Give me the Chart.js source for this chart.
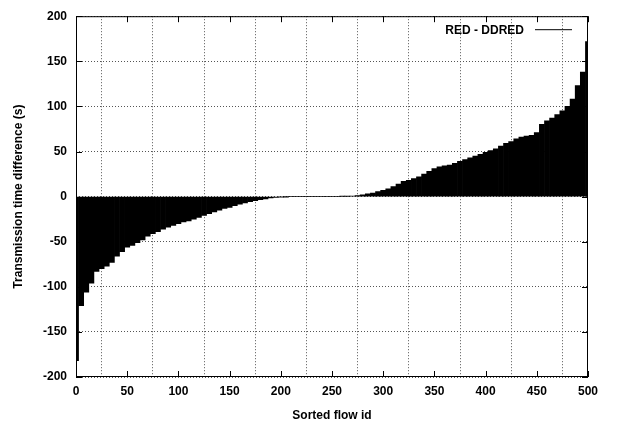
<!DOCTYPE html>
<html lang="en">
<head>
  <meta charset="utf-8" />
  <title>Sorted flow id</title>
  <script src="https://cdn.jsdelivr.net/npm/chart.js@4.4.1/dist/chart.umd.min.js"></script>
  <style>
    body { margin: 0; background: #fff; }
  </style>
</head>
<body>
  <canvas id="chart" width="621" height="423"></canvas>
  <script>
    // flow ids (every 5th sorted flow) and the transmission time difference
    const flowIds = [
      0, 5, 10, 15, 20, 25, 30, 35, 40, 45,
      50, 55, 60, 65, 70, 75, 80, 85, 90, 95,
      100, 105, 110, 115, 120, 125, 130, 135, 140, 145,
      150, 155, 160, 165, 170, 175, 180, 185, 190, 195,
      200, 205, 210, 215, 220, 225, 230, 235, 240, 245,
      250, 255, 260, 265, 270, 275, 280, 285, 290, 295,
      300, 305, 310, 315, 320, 325, 330, 335, 340, 345,
      350, 355, 360, 365, 370, 375, 380, 385, 390, 395,
      400, 405, 410, 415, 420, 425, 430, 435, 440, 445,
      450, 455, 460, 465, 470, 475, 480, 485, 490, 495,
      500
    ];
    const timeDiff = [
      -182, -121, -106, -96, -83, -80, -77, -73, -66, -61,
      -56, -54, -51, -48, -44, -41, -39, -36, -34, -32,
      -30, -28, -27, -25, -23, -21, -19, -17, -15, -13,
      -12, -10, -8.5, -7, -5.5, -4.5, -3.5, -2.5, -1.5, -0.8,
      -0.3, -0.1, 0, 0, 0, 0, 0, 0, 0, 0,
      0, 0, 0.1, 0.2, 0.4, 1, 2, 3, 4, 5.5,
      7, 8.5, 11, 14, 17, 18, 20, 22, 25, 28,
      31, 33, 34, 35, 37, 39, 41, 43, 45, 47,
      49, 51, 53, 56, 59, 61, 64, 66, 67, 68,
      71, 80, 84, 87, 91, 95, 100, 108, 123, 138,
      172
    ];
    const seriesLabel = 'RED - DDRED';
    const xTicks = [0, 50, 100, 150, 200, 250, 300, 350, 400, 450, 500];
    const yTicks = [-200, -150, -100, -50, 0, 50, 100, 150, 200];

    const font = { family: 'Liberation Sans, Arial, sans-serif', size: 12, weight: 'bold' };

    // gnuplot style frame, inward ticks and legend inside the plot
    const framePlugin = {
      id: 'frame',
      afterDraw(chart) {
        const ctx = chart.ctx;
        const a = chart.chartArea;
        const xs = chart.scales.x, ys = chart.scales.y;
        ctx.save();
        ctx.strokeStyle = '#000';
        ctx.lineWidth = 1;
        ctx.strokeRect(a.left + 0.5, a.top + 0.5, a.right - a.left - 1, a.bottom - a.top - 1);
        ctx.beginPath();
        xTicks.forEach(v => {
          const px = Math.round(xs.getPixelForValue(v)) + 0.5;
          ctx.moveTo(px, a.bottom); ctx.lineTo(px, a.bottom - 6);
          ctx.moveTo(px, a.top); ctx.lineTo(px, a.top + 6);
        });
        yTicks.forEach(v => {
          const py = Math.round(ys.getPixelForValue(v)) + 0.5;
          ctx.moveTo(a.left, py); ctx.lineTo(a.left + 6, py);
          ctx.moveTo(a.right, py); ctx.lineTo(a.right - 6, py);
        });
        ctx.stroke();
        // legend
        ctx.font = 'bold 12px Liberation Sans, Arial, sans-serif';
        ctx.fillStyle = '#000';
        ctx.textAlign = 'right';
        ctx.textBaseline = 'middle';
        ctx.fillText(seriesLabel, a.right - 64, a.top + 14);
        ctx.beginPath();
        ctx.moveTo(a.right - 53, a.top + 13.5);
        ctx.lineTo(a.right - 16, a.top + 13.5);
        ctx.stroke();
        ctx.restore();
      }
    };

    new Chart(document.getElementById('chart'), {
      type: 'bar',
      data: {
        datasets: [{
          label: seriesLabel,
          data: flowIds.map((f, i) => ({ x: f, y: timeDiff[i] })),
          backgroundColor: '#000',
          borderWidth: 0,
          barPercentage: 1,
          categoryPercentage: 1
        }]
      },
      options: {
        responsive: false,
        animation: false,
        devicePixelRatio: 1,
        layout: { padding: { top: 10, right: 33, left: 0, bottom: 0 } },
        plugins: { legend: { display: false }, tooltip: { enabled: false } },
        scales: {
          x: {
            type: 'linear',
            min: 0, max: 500,
            offset: false,
            afterBuildTicks: s => { s.ticks = xTicks.map(v => ({ value: v })); },
            afterFit: s => { s.height = 46; },
            ticks: { font: font, color: '#000', padding: 7, maxRotation: 0 },
            grid: { color: '#555', lineWidth: 1, drawTicks: false },
            border: { display: false, dash: [1, 2] },
            title: { display: true, text: 'Sorted flow id', font: font, color: '#000', padding: { top: 5, bottom: 0 } }
          },
          y: {
            min: -200, max: 200,
            afterBuildTicks: s => { s.ticks = yTicks.map(v => ({ value: v })); },
            afterFit: s => { s.width = 76; },
            ticks: { font: font, color: '#000', padding: 9 },
            grid: { color: '#555', lineWidth: 1, drawTicks: false },
            border: { display: false, dash: [1, 2] },
            title: { display: true, text: 'Transmission time difference (s)', font: font, color: '#000', padding: { top: 11, bottom: 0 } }
          }
        }
      },
      plugins: [framePlugin]
    });
  </script>
</body>
</html>
